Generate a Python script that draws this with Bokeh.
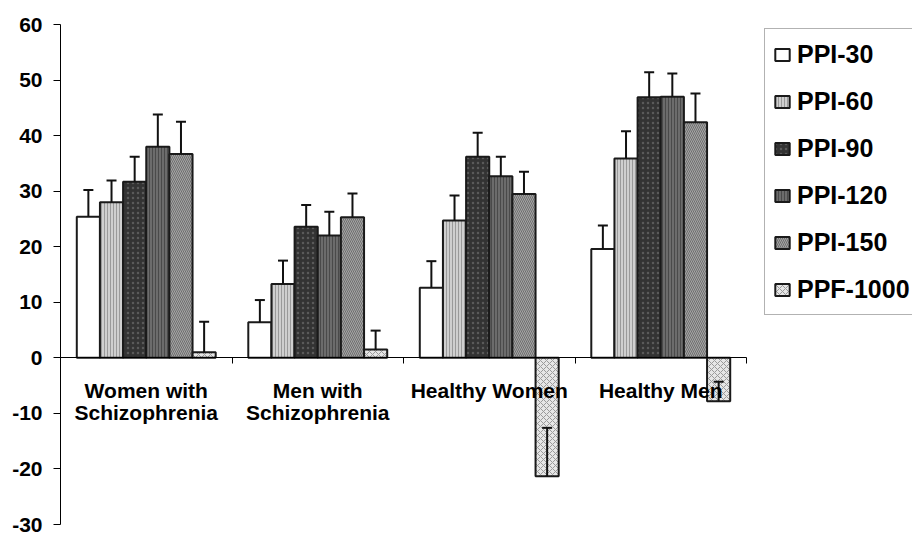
from bokeh.plotting import figure
from bokeh.models import (Range1d, FixedTicker, ColumnDataSource,
                          Legend, LegendItem, LinearAxis)
from bokeh.embed import file_html
from bokeh.resources import INLINE

# ---- data ----
categories = ["Women with\nSchizophrenia", "Men with\nSchizophrenia", "Healthy Women", "Healthy Men"]
series = ["PPI-30", "PPI-60", "PPI-90", "PPI-120", "PPI-150", "PPF-1000"]

ppi30 = [25.4, 6.4, 12.6, 19.6]
ppi30_err = [4.8, 4.0, 4.8, 4.2]
ppi60 = [28.0, 13.3, 24.7, 35.9]
ppi60_err = [3.9, 4.2, 4.5, 4.9]
ppi90 = [31.7, 23.6, 36.2, 46.9]
ppi90_err = [4.5, 3.9, 4.3, 4.5]
ppi120 = [38.0, 22.0, 32.7, 47.0]
ppi120_err = [5.8, 4.3, 3.5, 4.2]
ppi150 = [36.7, 25.3, 29.5, 42.4]
ppi150_err = [5.8, 4.3, 4.0, 5.2]
ppf1000 = [1.0, 1.5, -21.3, -7.8]
ppf1000_err = [5.5, 3.4, 8.7, 3.5]

y_ticks = [-30, -20, -10, 0, 10, 20, 30, 40, 50, 60]

values = [ppi30, ppi60, ppi90, ppi120, ppi150, ppf1000]
errors = [ppi30_err, ppi60_err, ppi90_err, ppi120_err, ppi150_err, ppf1000_err]

# ---- styles (fill, hatch pattern, hatch color, hatch scale) ----
styles = [
    ("#ffffff", None, None, 1),
    ("#cfcfcf", "vertical_line", "#9a9a9a", 3),
    ("#333333", "dot", "#5a5a5a", 5),
    ("#6c6c6c", "vertical_line", "#4a4a4a", 3),
    ("#a5a5a5", "left_diagonal_line", "#6e6e6e", 4),
    ("#e6e6e6", "diagonal_cross", "#9a9a9a", 6),
]

FONT = "Liberation Sans"
ncat = len(categories)
bar_w = 0.135

AXIS_PX = 686      # pixel length of the category axis
FRAME_W = 852      # frame extends under the legend
FRAME_H = 500
x_end = ncat * FRAME_W / AXIS_PX

p = figure(frame_width=FRAME_W, frame_height=FRAME_H,
           x_range=Range1d(0, x_end), y_range=Range1d(-30, 60),
           output_backend="svg", toolbar_location=None,
           x_axis_location=None,
           min_border_left=60, min_border_top=24, min_border_bottom=11, min_border_right=0)
p.xgrid.grid_line_color = None
p.ygrid.grid_line_color = None
p.outline_line_color = None
p.background_fill_color = "white"
p.border_fill_color = "white"

# y axis
ya = p.yaxis[0]
ya.ticker = FixedTicker(ticks=y_ticks)
ya.major_label_overrides = {t: str(t) for t in y_ticks}
ya.axis_line_color = "black"
ya.axis_line_width = 1
ya.major_tick_line_color = "black"
ya.major_tick_out = 7
ya.major_tick_in = 0
ya.minor_tick_line_color = None
ya.major_label_standoff = 11
ya.major_label_text_font = FONT
ya.major_label_text_font_style = "bold"
ya.major_label_text_font_size = "21px"
ya.major_label_text_color = "black"

# x axis at y = 0: labels at category centres, tick marks at boundaries
centres = [i + 0.5 for i in range(ncat)]
xa = LinearAxis(fixed_location=0, bounds=(0, ncat),
                ticker=FixedTicker(ticks=centres, minor_ticks=list(range(ncat + 1))))
xa.major_label_overrides = {c: lab for c, lab in zip(centres, categories)}
xa.axis_line_color = "black"
xa.axis_line_width = 1
xa.major_tick_out = 0
xa.major_tick_in = 0
xa.minor_tick_out = 6
xa.minor_tick_in = 0
xa.minor_tick_line_color = "black"
xa.major_label_standoff = 15
xa.major_label_text_font = FONT
xa.major_label_text_font_style = "bold"
xa.major_label_text_font_size = "21px"
xa.major_label_text_line_height = 0.95
xa.major_label_text_color = "black"
p.add_layout(xa, "below")

items = []
sources = []
for k, name in enumerate(series):
    xs = [i + 0.5 + (k - 2.5) * bar_w for i in range(ncat)]
    vals = values[k]
    errs = errors[k]
    src = ColumnDataSource(dict(x=xs, top=vals,
                                upper=[v + e for v, e in zip(vals, errs)],
                                lower=vals))
    sources.append(src)
    fill, hp, hc, hs = styles[k]
    kw = dict(x="x", top="top", bottom=0, width=bar_w, source=src,
              fill_color=fill, line_color="#1a1a1a", line_width=2)
    if hp:
        kw.update(hatch_pattern=hp, hatch_color=hc, hatch_scale=hs, hatch_weight=1)
    r = p.vbar(**kw)
    items.append(LegendItem(label=name, renderers=[r]))

# error bars (one-sided, drawn above all bars)
for src in sources:
    p.segment(x0="x", y0="lower", x1="x", y1="upper", source=src,
              line_color="#111111", line_width=2)
    p.scatter(x="x", y="upper", source=src, marker="dash", size=10,
              line_color="#111111", line_width=2)

legend = Legend(items=items, location=(704, 209), margin=0, padding=8,
                spacing=13, glyph_width=18, glyph_height=15, label_standoff=6,
                label_height=34,
                label_text_font=FONT, label_text_font_style="bold",
                label_text_font_size="25px", label_text_color="black",
                border_line_color="#666666", border_line_width=1.5,
                background_fill_alpha=1.0)
p.add_layout(legend, "center")

open("out.html", "w").write(file_html(p, INLINE))
